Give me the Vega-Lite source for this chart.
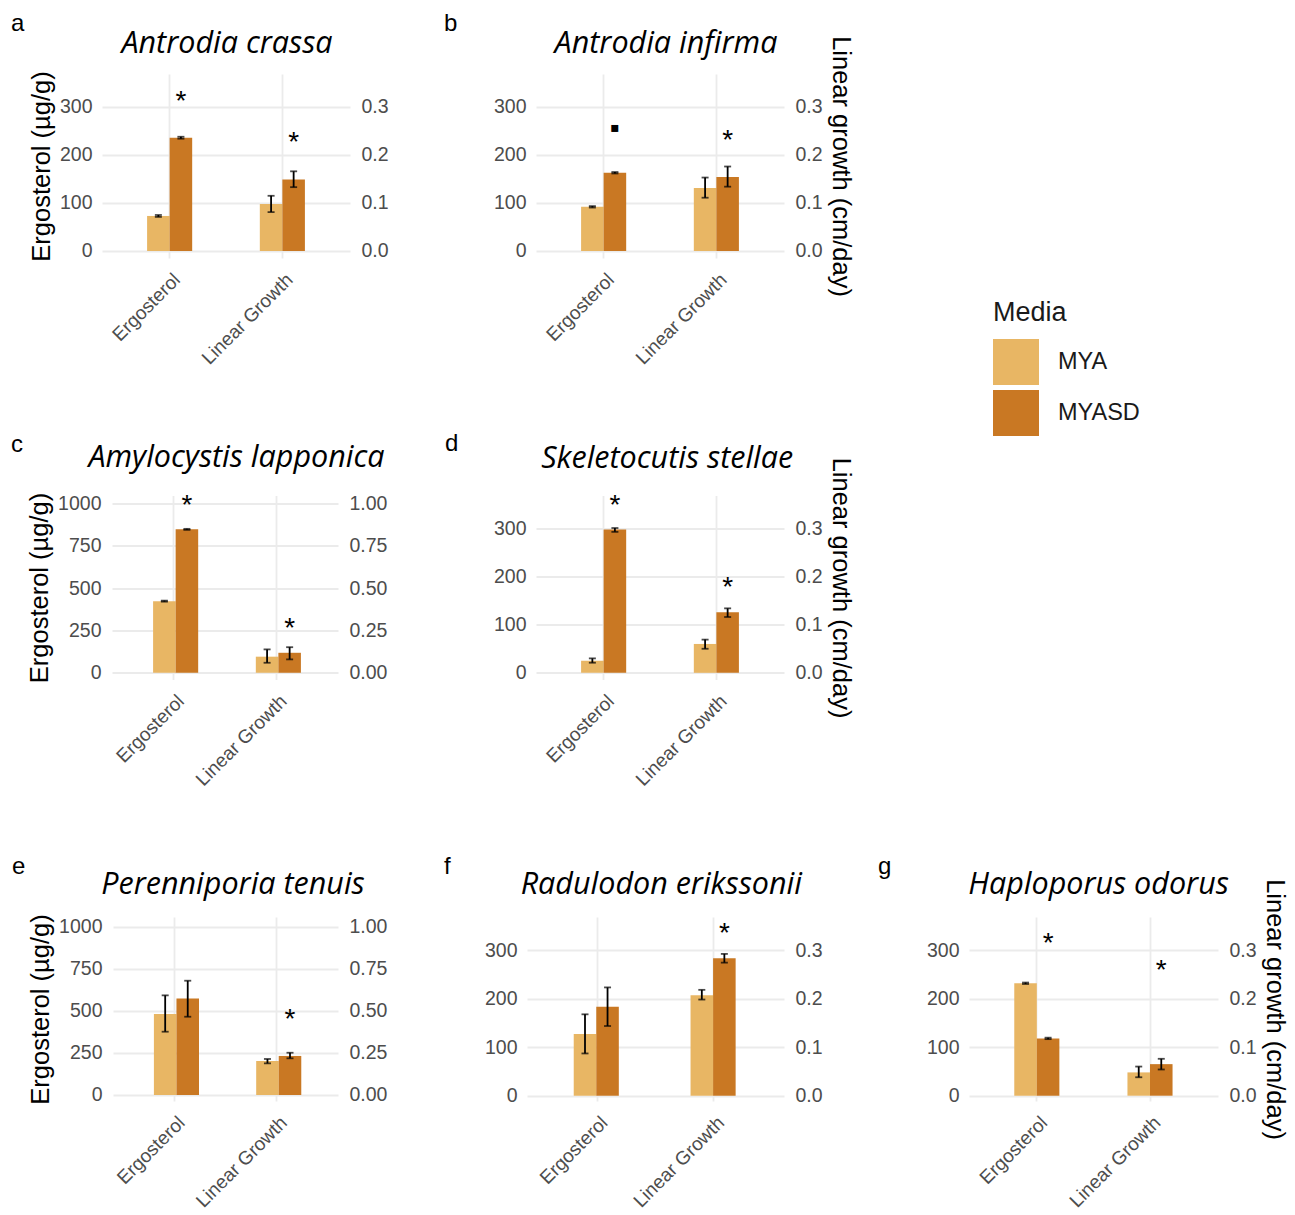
{
"$schema": "https://vega.github.io/schema/vega-lite/v6.json",
"autosize": {"type": "none"},
"padding": {"left": 102, "top": 74, "right": 1193, "bottom": 1141},
"background": "#ffffff",
"config": {
  "font": "Liberation Sans",
  "view": {"stroke": null},
  "axis": {"domain": false, "ticks": false, "labelColor": "#4D4D4D", "labelFontSize": 19.5, "titleColor": "#000000", "titleFontSize": 25.5, "titleFontWeight": "normal", "gridColor": "#EBEBEB"},
  "legend": {"symbolType": "square", "symbolSize": 2116, "symbolStrokeWidth": 0, "titleFontSize": 27, "titleFontWeight": "normal", "titleColor": "#1A1A1A", "labelFontSize": 23.5, "labelColor": "#1A1A1A", "labelOffset": 19, "rowPadding": 5, "titlePadding": 12, "padding": 0}
},
"datasets": {
  "a": [
    {"var": "Ergosterol", "media": "MYA", "value": 73, "lo": 71, "hi": 75},
    {"var": "Ergosterol", "media": "MYASD", "value": 236, "lo": 234, "hi": 238, "sig": "*", "sig_y": 320},
    {"var": "Linear Growth", "media": "MYA", "value": 0.098, "lo": 0.081, "hi": 0.115},
    {"var": "Linear Growth", "media": "MYASD", "value": 0.149, "lo": 0.133, "hi": 0.166, "sig": "*", "sig_y": 0.235}
  ],
  "b": [
    {"var": "Ergosterol", "media": "MYA", "value": 92, "lo": 90.5, "hi": 93.5},
    {"var": "Ergosterol", "media": "MYASD", "value": 163, "lo": 161.5, "hi": 164.5, "sig": "▪", "sig_y": 264},
    {"var": "Linear Growth", "media": "MYA", "value": 0.131, "lo": 0.111, "hi": 0.153},
    {"var": "Linear Growth", "media": "MYASD", "value": 0.154, "lo": 0.134, "hi": 0.176, "sig": "*", "sig_y": 0.238}
  ],
  "c": [
    {"var": "Ergosterol", "media": "MYA", "value": 423, "lo": 420, "hi": 426},
    {"var": "Ergosterol", "media": "MYASD", "value": 847, "lo": 844, "hi": 850, "sig": "*", "sig_y": 1013},
    {"var": "Linear Growth", "media": "MYA", "value": 0.095, "lo": 0.059, "hi": 0.138},
    {"var": "Linear Growth", "media": "MYASD", "value": 0.118, "lo": 0.079, "hi": 0.151, "sig": "*", "sig_y": 0.285}
  ],
  "d": [
    {"var": "Ergosterol", "media": "MYA", "value": 25, "lo": 21, "hi": 30},
    {"var": "Ergosterol", "media": "MYASD", "value": 298, "lo": 293, "hi": 301, "sig": "*", "sig_y": 357},
    {"var": "Linear Growth", "media": "MYA", "value": 0.060, "lo": 0.050, "hi": 0.069},
    {"var": "Linear Growth", "media": "MYASD", "value": 0.126, "lo": 0.116, "hi": 0.134, "sig": "*", "sig_y": 0.185}
  ],
  "e": [
    {"var": "Ergosterol", "media": "MYA", "value": 481, "lo": 376, "hi": 592},
    {"var": "Ergosterol", "media": "MYASD", "value": 574, "lo": 465, "hi": 679},
    {"var": "Linear Growth", "media": "MYA", "value": 0.202, "lo": 0.188, "hi": 0.214},
    {"var": "Linear Growth", "media": "MYASD", "value": 0.232, "lo": 0.218, "hi": 0.251, "sig": "*", "sig_y": 0.475}
  ],
  "f": [
    {"var": "Ergosterol", "media": "MYA", "value": 127, "lo": 87, "hi": 167.6},
    {"var": "Ergosterol", "media": "MYASD", "value": 183, "lo": 143.5, "hi": 223},
    {"var": "Linear Growth", "media": "MYA", "value": 0.207, "lo": 0.198, "hi": 0.218},
    {"var": "Linear Growth", "media": "MYASD", "value": 0.283, "lo": 0.274, "hi": 0.292, "sig": "*", "sig_y": 0.343}
  ],
  "g": [
    {"var": "Ergosterol", "media": "MYA", "value": 231.5, "lo": 230, "hi": 233},
    {"var": "Ergosterol", "media": "MYASD", "value": 118, "lo": 116.5, "hi": 119.5, "sig": "*", "sig_y": 322},
    {"var": "Linear Growth", "media": "MYA", "value": 0.048, "lo": 0.038, "hi": 0.060},
    {"var": "Linear Growth", "media": "MYASD", "value": 0.065, "lo": 0.054, "hi": 0.076, "sig": "*", "sig_y": 0.266}
  ]
},
"columns": 5,
"spacing": {"row": 237.5, "column": 0},
"align": "each",
"bounds": "flush",
"concat": [
  {
    "width": 248, "height": 184, "data": {"name": "a"},
    "title": {"text": "a", "anchor": "start", "frame": "group", "dx": -91, "offset": -26.7, "baseline": "alphabetic", "fontSize": 24, "fontWeight": "normal", "color": "#000000"},
    "resolve": {"scale": {"y": "independent"}, "axis": {"x": "independent"}},
    "layer": [
      {
        "transform": [{"filter": "datum.var === 'Ergosterol'"}],
        "encoding": {
          "x": {"field": "var", "type": "nominal", "scale": {"domain": ["Ergosterol", "Linear Growth"], "paddingInner": 0.6, "paddingOuter": 0.4}, "axis": {"orient": "bottom", "title": null, "labelAngle": -45, "labelAlign": "right", "labelBaseline": "top", "labelPadding": 12, "labelOffset": 1, "labelFontSize": 19, "grid": true, "gridWidth": 1.8, "bandPosition": 0.5}},
          "xOffset": {"field": "media", "type": "nominal", "scale": {"domain": ["MYA", "MYASD"], "paddingInner": 0, "paddingOuter": 0}}
        },
        "layer": [
          {"mark": {"type": "bar"}, "encoding": {"y": {"field": "value", "type": "quantitative", "stack": null, "scale": {"domain": [-14.6, 368.75], "nice": false, "zero": false}, "axis": {"orient": "left", "title": "Ergosterol (µg/g)", "values": [0, 50, 100, 150, 200, 250, 300, 350], "labelExpr": "datum.value % 100 === 0 ? datum.label : ''", "grid": true, "gridWidth": {"condition": {"test": "datum.value % 100 === 0", "value": 1.8}, "value": 1}, "labelPadding": 10, "titlePadding": 5}}, "color": {"field": "media", "type": "nominal", "scale": {"domain": ["MYA", "MYASD"], "range": ["#E8B664", "#C97823"]}, "legend": {"title": "Media", "orient": "none", "legendX": 891, "legendY": 226, "symbolType": "square"}}}},
          {"mark": {"type": "rule", "color": "#000000", "strokeWidth": 1.8}, "encoding": {"y": {"field": "lo", "type": "quantitative"}, "y2": {"field": "hi"}}},
          {"mark": {"type": "tick", "color": "#000000", "thickness": 1.8, "size": 7}, "encoding": {"y": {"field": "lo", "type": "quantitative"}}},
          {"mark": {"type": "tick", "color": "#000000", "thickness": 1.8, "size": 7}, "encoding": {"y": {"field": "hi", "type": "quantitative"}}},
          {"transform": [{"filter": "isValid(datum.sig)"}], "mark": {"type": "text", "fontSize": 28, "baseline": "alphabetic", "dy": 12.5, "color": "#000000"}, "encoding": {"y": {"field": "sig_y", "type": "quantitative"}, "text": {"field": "sig", "type": "nominal"}}}
        ]
      },
      {
        "transform": [{"filter": "datum.var === 'Linear Growth'"}],
        "encoding": {
          "x": {"field": "var", "type": "nominal", "scale": {"domain": ["Ergosterol", "Linear Growth"], "paddingInner": 0.6, "paddingOuter": 0.4}, "axis": {"orient": "top", "labels": false, "grid": false, "title": "Antrodia crassa", "titleFont": "Open Sans", "titleFontStyle": "italic", "titleFontSize": 30.5, "titleColor": "#000000", "titleX": 124.5, "titleY": -21.3, "titleAlign": "center", "titleBaseline": "alphabetic", "titleAngle": 0}},
          "xOffset": {"field": "media", "type": "nominal", "scale": {"domain": ["MYA", "MYASD"], "paddingInner": 0, "paddingOuter": 0}}
        },
        "layer": [
          {"mark": {"type": "bar"}, "encoding": {"y": {"field": "value", "type": "quantitative", "stack": null, "scale": {"domain": [-0.0146, 0.36875], "nice": false, "zero": false}, "axis": {"orient": "right", "title": null, "values": [0, 0.1, 0.2, 0.3], "format": ".1f", "grid": false, "labelPadding": 11, "titlePadding": 5}}, "color": {"field": "media", "type": "nominal", "scale": {"domain": ["MYA", "MYASD"], "range": ["#E8B664", "#C97823"]}, "legend": {"title": "Media", "orient": "none", "legendX": 891, "legendY": 226, "symbolType": "square"}}}},
          {"mark": {"type": "rule", "color": "#000000", "strokeWidth": 1.8}, "encoding": {"y": {"field": "lo", "type": "quantitative"}, "y2": {"field": "hi"}}},
          {"mark": {"type": "tick", "color": "#000000", "thickness": 1.8, "size": 7}, "encoding": {"y": {"field": "lo", "type": "quantitative"}}},
          {"mark": {"type": "tick", "color": "#000000", "thickness": 1.8, "size": 7}, "encoding": {"y": {"field": "hi", "type": "quantitative"}}},
          {"transform": [{"filter": "isValid(datum.sig)"}], "mark": {"type": "text", "fontSize": 28, "baseline": "alphabetic", "dy": 12.5, "color": "#000000"}, "encoding": {"y": {"field": "sig_y", "type": "quantitative"}, "text": {"field": "sig", "type": "nominal"}}}
        ]
      }
    ]
  },
  {"width": 177, "height": 184, "data": {"values": []}, "mark": "point"},
  {
    "width": 257, "height": 184, "data": {"name": "b"},
    "title": {"text": "b", "anchor": "start", "frame": "group", "dx": -83, "offset": -26.7, "baseline": "alphabetic", "fontSize": 24, "fontWeight": "normal", "color": "#000000"},
    "resolve": {"scale": {"y": "independent"}, "axis": {"x": "independent"}},
    "layer": [
      {
        "transform": [{"filter": "datum.var === 'Ergosterol'"}],
        "encoding": {
          "x": {"field": "var", "type": "nominal", "scale": {"domain": ["Ergosterol", "Linear Growth"], "range": [9, 257], "paddingInner": 0.6, "paddingOuter": 0.4}, "axis": {"orient": "bottom", "title": null, "labelAngle": -45, "labelAlign": "right", "labelBaseline": "top", "labelPadding": 12, "labelOffset": 1, "labelFontSize": 19, "grid": true, "gridWidth": 1.8, "bandPosition": 0.5}},
          "xOffset": {"field": "media", "type": "nominal", "scale": {"domain": ["MYA", "MYASD"], "paddingInner": 0, "paddingOuter": 0}}
        },
        "layer": [
          {"mark": {"type": "bar"}, "encoding": {"y": {"field": "value", "type": "quantitative", "stack": null, "scale": {"domain": [-14.6, 368.75], "nice": false, "zero": false}, "axis": {"orient": "left", "title": null, "values": [0, 50, 100, 150, 200, 250, 300, 350], "labelExpr": "datum.value % 100 === 0 ? datum.label : ''", "grid": true, "gridWidth": {"condition": {"test": "datum.value % 100 === 0", "value": 1.8}, "value": 1}, "labelPadding": 1, "titlePadding": 5}}, "color": {"field": "media", "type": "nominal", "scale": {"domain": ["MYA", "MYASD"], "range": ["#E8B664", "#C97823"]}, "legend": {"title": "Media", "orient": "none", "legendX": 891, "legendY": 226, "symbolType": "square"}}}},
          {"mark": {"type": "rule", "color": "#000000", "strokeWidth": 1.8}, "encoding": {"y": {"field": "lo", "type": "quantitative"}, "y2": {"field": "hi"}}},
          {"mark": {"type": "tick", "color": "#000000", "thickness": 1.8, "size": 7}, "encoding": {"y": {"field": "lo", "type": "quantitative"}}},
          {"mark": {"type": "tick", "color": "#000000", "thickness": 1.8, "size": 7}, "encoding": {"y": {"field": "hi", "type": "quantitative"}}},
          {"transform": [{"filter": "isValid(datum.sig)"}], "mark": {"type": "text", "fontSize": 28, "baseline": "alphabetic", "dy": 12.5, "color": "#000000"}, "encoding": {"y": {"field": "sig_y", "type": "quantitative"}, "text": {"field": "sig", "type": "nominal"}}}
        ]
      },
      {
        "transform": [{"filter": "datum.var === 'Linear Growth'"}],
        "encoding": {
          "x": {"field": "var", "type": "nominal", "scale": {"domain": ["Ergosterol", "Linear Growth"], "range": [9, 257], "paddingInner": 0.6, "paddingOuter": 0.4}, "axis": {"orient": "top", "labels": false, "grid": false, "title": "Antrodia infirma", "titleFont": "Open Sans", "titleFontStyle": "italic", "titleFontSize": 30.5, "titleColor": "#000000", "titleX": 138.5, "titleY": -21.3, "titleAlign": "center", "titleBaseline": "alphabetic", "titleAngle": 0}},
          "xOffset": {"field": "media", "type": "nominal", "scale": {"domain": ["MYA", "MYASD"], "paddingInner": 0, "paddingOuter": 0}}
        },
        "layer": [
          {"mark": {"type": "bar"}, "encoding": {"y": {"field": "value", "type": "quantitative", "stack": null, "scale": {"domain": [-0.0146, 0.36875], "nice": false, "zero": false}, "axis": {"orient": "right", "title": "Linear growth (cm/day)", "values": [0, 0.1, 0.2, 0.3], "format": ".1f", "grid": false, "labelPadding": 11, "titlePadding": 5}}, "color": {"field": "media", "type": "nominal", "scale": {"domain": ["MYA", "MYASD"], "range": ["#E8B664", "#C97823"]}, "legend": {"title": "Media", "orient": "none", "legendX": 891, "legendY": 226, "symbolType": "square"}}}},
          {"mark": {"type": "rule", "color": "#000000", "strokeWidth": 1.8}, "encoding": {"y": {"field": "lo", "type": "quantitative"}, "y2": {"field": "hi"}}},
          {"mark": {"type": "tick", "color": "#000000", "thickness": 1.8, "size": 7}, "encoding": {"y": {"field": "lo", "type": "quantitative"}}},
          {"mark": {"type": "tick", "color": "#000000", "thickness": 1.8, "size": 7}, "encoding": {"y": {"field": "hi", "type": "quantitative"}}},
          {"transform": [{"filter": "isValid(datum.sig)"}], "mark": {"type": "text", "fontSize": 28, "baseline": "alphabetic", "dy": 12.5, "color": "#000000"}, "encoding": {"y": {"field": "sig_y", "type": "quantitative"}, "text": {"field": "sig", "type": "nominal"}}}
        ]
      }
    ]
  },
  {"width": 185, "height": 184, "data": {"values": []}, "mark": "point"},
  {"width": 1, "height": 184, "data": {"values": []}, "mark": "point"},

  {
    "width": 236, "height": 184, "data": {"name": "c"},
    "title": {"text": "c", "anchor": "start", "frame": "group", "dx": -91, "offset": -33.7, "baseline": "alphabetic", "fontSize": 24, "fontWeight": "normal", "color": "#000000"},
    "resolve": {"scale": {"y": "independent"}, "axis": {"x": "independent"}},
    "layer": [
      {
        "transform": [{"filter": "datum.var === 'Ergosterol'"}],
        "encoding": {
          "x": {"field": "var", "type": "nominal", "scale": {"domain": ["Ergosterol", "Linear Growth"], "range": [10, 236], "paddingInner": 0.6, "paddingOuter": 0.4}, "axis": {"orient": "bottom", "title": null, "labelAngle": -45, "labelAlign": "right", "labelBaseline": "top", "labelPadding": 12, "labelOffset": 1, "labelFontSize": 19, "grid": true, "gridWidth": 1.8, "bandPosition": 0.5}},
          "xOffset": {"field": "media", "type": "nominal", "scale": {"domain": ["MYA", "MYASD"], "paddingInner": 0, "paddingOuter": 0}}
        },
        "layer": [
          {"mark": {"type": "bar"}, "encoding": {"y": {"field": "value", "type": "quantitative", "stack": null, "scale": {"domain": [-39.8, 1047], "nice": false, "zero": false}, "axis": {"orient": "left", "title": "Ergosterol (µg/g)", "values": [0, 125, 250, 375, 500, 625, 750, 875, 1000], "format": "d", "labelExpr": "datum.value % 250 === 0 ? datum.label : ''", "grid": true, "gridWidth": {"condition": {"test": "datum.value % 250 === 0", "value": 1.8}, "value": 1}, "labelPadding": 1, "titlePadding": 5}}, "color": {"field": "media", "type": "nominal", "scale": {"domain": ["MYA", "MYASD"], "range": ["#E8B664", "#C97823"]}, "legend": {"title": "Media", "orient": "none", "legendX": 891, "legendY": 226, "symbolType": "square"}}}},
          {"mark": {"type": "rule", "color": "#000000", "strokeWidth": 1.8}, "encoding": {"y": {"field": "lo", "type": "quantitative"}, "y2": {"field": "hi"}}},
          {"mark": {"type": "tick", "color": "#000000", "thickness": 1.8, "size": 7}, "encoding": {"y": {"field": "lo", "type": "quantitative"}}},
          {"mark": {"type": "tick", "color": "#000000", "thickness": 1.8, "size": 7}, "encoding": {"y": {"field": "hi", "type": "quantitative"}}},
          {"transform": [{"filter": "isValid(datum.sig)"}], "mark": {"type": "text", "fontSize": 28, "baseline": "alphabetic", "dy": 12.5, "color": "#000000"}, "encoding": {"y": {"field": "sig_y", "type": "quantitative"}, "text": {"field": "sig", "type": "nominal"}}}
        ]
      },
      {
        "transform": [{"filter": "datum.var === 'Linear Growth'"}],
        "encoding": {
          "x": {"field": "var", "type": "nominal", "scale": {"domain": ["Ergosterol", "Linear Growth"], "range": [10, 236], "paddingInner": 0.6, "paddingOuter": 0.4}, "axis": {"orient": "top", "labels": false, "grid": false, "title": "Amylocystis lapponica", "titleFont": "Open Sans", "titleFontStyle": "italic", "titleFontSize": 30.5, "titleColor": "#000000", "titleX": 134, "titleY": -29.3, "titleAlign": "center", "titleBaseline": "alphabetic", "titleAngle": 0}},
          "xOffset": {"field": "media", "type": "nominal", "scale": {"domain": ["MYA", "MYASD"], "paddingInner": 0, "paddingOuter": 0}}
        },
        "layer": [
          {"mark": {"type": "bar"}, "encoding": {"y": {"field": "value", "type": "quantitative", "stack": null, "scale": {"domain": [-0.0398, 1.047], "nice": false, "zero": false}, "axis": {"orient": "right", "title": null, "values": [0, 0.25, 0.5, 0.75, 1], "format": ".2f", "grid": false, "labelPadding": 11, "titlePadding": 5}}, "color": {"field": "media", "type": "nominal", "scale": {"domain": ["MYA", "MYASD"], "range": ["#E8B664", "#C97823"]}, "legend": {"title": "Media", "orient": "none", "legendX": 891, "legendY": 226, "symbolType": "square"}}}},
          {"mark": {"type": "rule", "color": "#000000", "strokeWidth": 1.8}, "encoding": {"y": {"field": "lo", "type": "quantitative"}, "y2": {"field": "hi"}}},
          {"mark": {"type": "tick", "color": "#000000", "thickness": 1.8, "size": 7}, "encoding": {"y": {"field": "lo", "type": "quantitative"}}},
          {"mark": {"type": "tick", "color": "#000000", "thickness": 1.8, "size": 7}, "encoding": {"y": {"field": "hi", "type": "quantitative"}}},
          {"transform": [{"filter": "isValid(datum.sig)"}], "mark": {"type": "text", "fontSize": 28, "baseline": "alphabetic", "dy": 12.5, "color": "#000000"}, "encoding": {"y": {"field": "sig_y", "type": "quantitative"}, "text": {"field": "sig", "type": "nominal"}}}
        ]
      }
    ]
  },
  {"width": 177, "height": 184, "data": {"values": []}, "mark": "point"},
  {
    "width": 257, "height": 184, "data": {"name": "d"},
    "title": {"text": "d", "anchor": "start", "frame": "group", "dx": -82, "offset": -32, "baseline": "alphabetic", "fontSize": 24, "fontWeight": "normal", "color": "#000000"},
    "resolve": {"scale": {"y": "independent"}, "axis": {"x": "independent"}},
    "layer": [
      {
        "transform": [{"filter": "datum.var === 'Ergosterol'"}],
        "encoding": {
          "x": {"field": "var", "type": "nominal", "scale": {"domain": ["Ergosterol", "Linear Growth"], "range": [9, 257], "paddingInner": 0.6, "paddingOuter": 0.4}, "axis": {"orient": "bottom", "title": null, "labelAngle": -45, "labelAlign": "right", "labelBaseline": "top", "labelPadding": 12, "labelOffset": 1, "labelFontSize": 19, "grid": true, "gridWidth": 1.8, "bandPosition": 0.5}},
          "xOffset": {"field": "media", "type": "nominal", "scale": {"domain": ["MYA", "MYASD"], "paddingInner": 0, "paddingOuter": 0}}
        },
        "layer": [
          {"mark": {"type": "bar"}, "encoding": {"y": {"field": "value", "type": "quantitative", "stack": null, "scale": {"domain": [-13.9, 368.6], "nice": false, "zero": false}, "axis": {"orient": "left", "title": null, "values": [0, 50, 100, 150, 200, 250, 300, 350], "labelExpr": "datum.value % 100 === 0 ? datum.label : ''", "grid": true, "gridWidth": {"condition": {"test": "datum.value % 100 === 0", "value": 1.8}, "value": 1}, "labelPadding": 1, "titlePadding": 5}}, "color": {"field": "media", "type": "nominal", "scale": {"domain": ["MYA", "MYASD"], "range": ["#E8B664", "#C97823"]}, "legend": {"title": "Media", "orient": "none", "legendX": 891, "legendY": 226, "symbolType": "square"}}}},
          {"mark": {"type": "rule", "color": "#000000", "strokeWidth": 1.8}, "encoding": {"y": {"field": "lo", "type": "quantitative"}, "y2": {"field": "hi"}}},
          {"mark": {"type": "tick", "color": "#000000", "thickness": 1.8, "size": 7}, "encoding": {"y": {"field": "lo", "type": "quantitative"}}},
          {"mark": {"type": "tick", "color": "#000000", "thickness": 1.8, "size": 7}, "encoding": {"y": {"field": "hi", "type": "quantitative"}}},
          {"transform": [{"filter": "isValid(datum.sig)"}], "mark": {"type": "text", "fontSize": 28, "baseline": "alphabetic", "dy": 12.5, "color": "#000000"}, "encoding": {"y": {"field": "sig_y", "type": "quantitative"}, "text": {"field": "sig", "type": "nominal"}}}
        ]
      },
      {
        "transform": [{"filter": "datum.var === 'Linear Growth'"}],
        "encoding": {
          "x": {"field": "var", "type": "nominal", "scale": {"domain": ["Ergosterol", "Linear Growth"], "range": [9, 257], "paddingInner": 0.6, "paddingOuter": 0.4}, "axis": {"orient": "top", "labels": false, "grid": false, "title": "Skeletocutis stellae", "titleFont": "Open Sans", "titleFontStyle": "italic", "titleFontSize": 30.5, "titleColor": "#000000", "titleX": 139.7, "titleY": -28.3, "titleAlign": "center", "titleBaseline": "alphabetic", "titleAngle": 0}},
          "xOffset": {"field": "media", "type": "nominal", "scale": {"domain": ["MYA", "MYASD"], "paddingInner": 0, "paddingOuter": 0}}
        },
        "layer": [
          {"mark": {"type": "bar"}, "encoding": {"y": {"field": "value", "type": "quantitative", "stack": null, "scale": {"domain": [-0.0139, 0.3686], "nice": false, "zero": false}, "axis": {"orient": "right", "title": "Linear growth (cm/day)", "values": [0, 0.1, 0.2, 0.3], "format": ".1f", "grid": false, "labelPadding": 11, "titlePadding": 5}}, "color": {"field": "media", "type": "nominal", "scale": {"domain": ["MYA", "MYASD"], "range": ["#E8B664", "#C97823"]}, "legend": {"title": "Media", "orient": "none", "legendX": 891, "legendY": 226, "symbolType": "square"}}}},
          {"mark": {"type": "rule", "color": "#000000", "strokeWidth": 1.8}, "encoding": {"y": {"field": "lo", "type": "quantitative"}, "y2": {"field": "hi"}}},
          {"mark": {"type": "tick", "color": "#000000", "thickness": 1.8, "size": 7}, "encoding": {"y": {"field": "lo", "type": "quantitative"}}},
          {"mark": {"type": "tick", "color": "#000000", "thickness": 1.8, "size": 7}, "encoding": {"y": {"field": "hi", "type": "quantitative"}}},
          {"transform": [{"filter": "isValid(datum.sig)"}], "mark": {"type": "text", "fontSize": 28, "baseline": "alphabetic", "dy": 12.5, "color": "#000000"}, "encoding": {"y": {"field": "sig_y", "type": "quantitative"}, "text": {"field": "sig", "type": "nominal"}}}
        ]
      }
    ]
  },
  {"width": 185, "height": 184, "data": {"values": []}, "mark": "point"},
  {"width": 1, "height": 184, "data": {"values": []}, "mark": "point"},

  {
    "width": 236, "height": 184, "data": {"name": "e"},
    "title": {"text": "e", "anchor": "start", "frame": "group", "dx": -90, "offset": -29.1, "baseline": "alphabetic", "fontSize": 24, "fontWeight": "normal", "color": "#000000"},
    "resolve": {"scale": {"y": "independent"}, "axis": {"x": "independent"}},
    "layer": [
      {
        "transform": [{"filter": "datum.var === 'Ergosterol'"}],
        "encoding": {
          "x": {"field": "var", "type": "nominal", "scale": {"domain": ["Ergosterol", "Linear Growth"], "range": [11, 236], "paddingInner": 0.6, "paddingOuter": 0.4}, "axis": {"orient": "bottom", "title": null, "labelAngle": -45, "labelAlign": "right", "labelBaseline": "top", "labelPadding": 12, "labelOffset": 1, "labelFontSize": 19, "grid": true, "gridWidth": 1.8, "bandPosition": 0.5}},
          "xOffset": {"field": "media", "type": "nominal", "scale": {"domain": ["MYA", "MYASD"], "paddingInner": 0, "paddingOuter": 0}}
        },
        "layer": [
          {"mark": {"type": "bar"}, "encoding": {"y": {"field": "value", "type": "quantitative", "stack": null, "scale": {"domain": [-35.7, 1057.6], "nice": false, "zero": false}, "axis": {"orient": "left", "title": "Ergosterol (µg/g)", "values": [0, 125, 250, 375, 500, 625, 750, 875, 1000], "format": "d", "labelExpr": "datum.value % 250 === 0 ? datum.label : ''", "grid": true, "gridWidth": {"condition": {"test": "datum.value % 250 === 0", "value": 1.8}, "value": 1}, "labelPadding": 0, "titlePadding": 5}}, "color": {"field": "media", "type": "nominal", "scale": {"domain": ["MYA", "MYASD"], "range": ["#E8B664", "#C97823"]}, "legend": {"title": "Media", "orient": "none", "legendX": 891, "legendY": 226, "symbolType": "square"}}}},
          {"mark": {"type": "rule", "color": "#000000", "strokeWidth": 1.8}, "encoding": {"y": {"field": "lo", "type": "quantitative"}, "y2": {"field": "hi"}}},
          {"mark": {"type": "tick", "color": "#000000", "thickness": 1.8, "size": 7}, "encoding": {"y": {"field": "lo", "type": "quantitative"}}},
          {"mark": {"type": "tick", "color": "#000000", "thickness": 1.8, "size": 7}, "encoding": {"y": {"field": "hi", "type": "quantitative"}}},
          {"transform": [{"filter": "isValid(datum.sig)"}], "mark": {"type": "text", "fontSize": 28, "baseline": "alphabetic", "dy": 12.5, "color": "#000000"}, "encoding": {"y": {"field": "sig_y", "type": "quantitative"}, "text": {"field": "sig", "type": "nominal"}}}
        ]
      },
      {
        "transform": [{"filter": "datum.var === 'Linear Growth'"}],
        "encoding": {
          "x": {"field": "var", "type": "nominal", "scale": {"domain": ["Ergosterol", "Linear Growth"], "range": [11, 236], "paddingInner": 0.6, "paddingOuter": 0.4}, "axis": {"orient": "top", "labels": false, "grid": false, "title": "Perenniporia tenuis", "titleFont": "Open Sans", "titleFontStyle": "italic", "titleFontSize": 30.5, "titleColor": "#000000", "titleX": 130.5, "titleY": -23.7, "titleAlign": "center", "titleBaseline": "alphabetic", "titleAngle": 0}},
          "xOffset": {"field": "media", "type": "nominal", "scale": {"domain": ["MYA", "MYASD"], "paddingInner": 0, "paddingOuter": 0}}
        },
        "layer": [
          {"mark": {"type": "bar"}, "encoding": {"y": {"field": "value", "type": "quantitative", "stack": null, "scale": {"domain": [-0.0357, 1.0576], "nice": false, "zero": false}, "axis": {"orient": "right", "title": null, "values": [0, 0.25, 0.5, 0.75, 1], "format": ".2f", "grid": false, "labelPadding": 11, "titlePadding": 5}}, "color": {"field": "media", "type": "nominal", "scale": {"domain": ["MYA", "MYASD"], "range": ["#E8B664", "#C97823"]}, "legend": {"title": "Media", "orient": "none", "legendX": 891, "legendY": 226, "symbolType": "square"}}}},
          {"mark": {"type": "rule", "color": "#000000", "strokeWidth": 1.8}, "encoding": {"y": {"field": "lo", "type": "quantitative"}, "y2": {"field": "hi"}}},
          {"mark": {"type": "tick", "color": "#000000", "thickness": 1.8, "size": 7}, "encoding": {"y": {"field": "lo", "type": "quantitative"}}},
          {"mark": {"type": "tick", "color": "#000000", "thickness": 1.8, "size": 7}, "encoding": {"y": {"field": "hi", "type": "quantitative"}}},
          {"transform": [{"filter": "isValid(datum.sig)"}], "mark": {"type": "text", "fontSize": 28, "baseline": "alphabetic", "dy": 12.5, "color": "#000000"}, "encoding": {"y": {"field": "sig_y", "type": "quantitative"}, "text": {"field": "sig", "type": "nominal"}}}
        ]
      }
    ]
  },
  {"width": 177, "height": 184, "data": {"values": []}, "mark": "point"},
  {
    "width": 257, "height": 184, "data": {"name": "f"},
    "title": {"text": "f", "anchor": "start", "frame": "group", "dx": -83, "offset": -29.1, "baseline": "alphabetic", "fontSize": 24, "fontWeight": "normal", "color": "#000000"},
    "resolve": {"scale": {"y": "independent"}, "axis": {"x": "independent"}},
    "layer": [
      {
        "transform": [{"filter": "datum.var === 'Ergosterol'"}],
        "encoding": {
          "x": {"field": "var", "type": "nominal", "scale": {"domain": ["Ergosterol", "Linear Growth"], "paddingInner": 0.6, "paddingOuter": 0.4}, "axis": {"orient": "bottom", "title": null, "labelAngle": -45, "labelAlign": "right", "labelBaseline": "top", "labelPadding": 12, "labelOffset": 1, "labelFontSize": 19, "grid": true, "gridWidth": 1.8, "bandPosition": 0.5}},
          "xOffset": {"field": "media", "type": "nominal", "scale": {"domain": ["MYA", "MYASD"], "paddingInner": 0, "paddingOuter": 0}}
        },
        "layer": [
          {"mark": {"type": "bar"}, "encoding": {"y": {"field": "value", "type": "quantitative", "stack": null, "scale": {"domain": [-10.9, 368], "nice": false, "zero": false}, "axis": {"orient": "left", "title": null, "values": [0, 50, 100, 150, 200, 250, 300, 350], "labelExpr": "datum.value % 100 === 0 ? datum.label : ''", "grid": true, "gridWidth": {"condition": {"test": "datum.value % 100 === 0", "value": 1.8}, "value": 1}, "labelPadding": 10, "titlePadding": 5}}, "color": {"field": "media", "type": "nominal", "scale": {"domain": ["MYA", "MYASD"], "range": ["#E8B664", "#C97823"]}, "legend": {"title": "Media", "orient": "none", "legendX": 891, "legendY": 226, "symbolType": "square"}}}},
          {"mark": {"type": "rule", "color": "#000000", "strokeWidth": 1.8}, "encoding": {"y": {"field": "lo", "type": "quantitative"}, "y2": {"field": "hi"}}},
          {"mark": {"type": "tick", "color": "#000000", "thickness": 1.8, "size": 7}, "encoding": {"y": {"field": "lo", "type": "quantitative"}}},
          {"mark": {"type": "tick", "color": "#000000", "thickness": 1.8, "size": 7}, "encoding": {"y": {"field": "hi", "type": "quantitative"}}},
          {"transform": [{"filter": "isValid(datum.sig)"}], "mark": {"type": "text", "fontSize": 28, "baseline": "alphabetic", "dy": 12.5, "color": "#000000"}, "encoding": {"y": {"field": "sig_y", "type": "quantitative"}, "text": {"field": "sig", "type": "nominal"}}}
        ]
      },
      {
        "transform": [{"filter": "datum.var === 'Linear Growth'"}],
        "encoding": {
          "x": {"field": "var", "type": "nominal", "scale": {"domain": ["Ergosterol", "Linear Growth"], "paddingInner": 0.6, "paddingOuter": 0.4}, "axis": {"orient": "top", "labels": false, "grid": false, "title": "Radulodon erikssonii", "titleFont": "Open Sans", "titleFontStyle": "italic", "titleFontSize": 30.5, "titleColor": "#000000", "titleX": 133.8, "titleY": -23.7, "titleAlign": "center", "titleBaseline": "alphabetic", "titleAngle": 0}},
          "xOffset": {"field": "media", "type": "nominal", "scale": {"domain": ["MYA", "MYASD"], "paddingInner": 0, "paddingOuter": 0}}
        },
        "layer": [
          {"mark": {"type": "bar"}, "encoding": {"y": {"field": "value", "type": "quantitative", "stack": null, "scale": {"domain": [-0.0109, 0.368], "nice": false, "zero": false}, "axis": {"orient": "right", "title": null, "values": [0, 0.1, 0.2, 0.3], "format": ".1f", "grid": false, "labelPadding": 11, "titlePadding": 5}}, "color": {"field": "media", "type": "nominal", "scale": {"domain": ["MYA", "MYASD"], "range": ["#E8B664", "#C97823"]}, "legend": {"title": "Media", "orient": "none", "legendX": 891, "legendY": 226, "symbolType": "square"}}}},
          {"mark": {"type": "rule", "color": "#000000", "strokeWidth": 1.8}, "encoding": {"y": {"field": "lo", "type": "quantitative"}, "y2": {"field": "hi"}}},
          {"mark": {"type": "tick", "color": "#000000", "thickness": 1.8, "size": 7}, "encoding": {"y": {"field": "lo", "type": "quantitative"}}},
          {"mark": {"type": "tick", "color": "#000000", "thickness": 1.8, "size": 7}, "encoding": {"y": {"field": "hi", "type": "quantitative"}}},
          {"transform": [{"filter": "isValid(datum.sig)"}], "mark": {"type": "text", "fontSize": 28, "baseline": "alphabetic", "dy": 12.5, "color": "#000000"}, "encoding": {"y": {"field": "sig_y", "type": "quantitative"}, "text": {"field": "sig", "type": "nominal"}}}
        ]
      }
    ]
  },
  {"width": 185, "height": 184, "data": {"values": []}, "mark": "point"},
  {
    "width": 249, "height": 184, "data": {"name": "g"},
    "title": {"text": "g", "anchor": "start", "frame": "group", "dx": -91, "offset": -28.4, "baseline": "alphabetic", "fontSize": 24, "fontWeight": "normal", "color": "#000000"},
    "resolve": {"scale": {"y": "independent"}, "axis": {"x": "independent"}},
    "layer": [
      {
        "transform": [{"filter": "datum.var === 'Ergosterol'"}],
        "encoding": {
          "x": {"field": "var", "type": "nominal", "scale": {"domain": ["Ergosterol", "Linear Growth"], "paddingInner": 0.6, "paddingOuter": 0.4}, "axis": {"orient": "bottom", "title": null, "labelAngle": -45, "labelAlign": "right", "labelBaseline": "top", "labelPadding": 12, "labelOffset": 1, "labelFontSize": 19, "grid": true, "gridWidth": 1.8, "bandPosition": 0.5}},
          "xOffset": {"field": "media", "type": "nominal", "scale": {"domain": ["MYA", "MYASD"], "paddingInner": 0, "paddingOuter": 0}}
        },
        "layer": [
          {"mark": {"type": "bar"}, "encoding": {"y": {"field": "value", "type": "quantitative", "stack": null, "scale": {"domain": [-10.9, 368], "nice": false, "zero": false}, "axis": {"orient": "left", "title": null, "values": [0, 50, 100, 150, 200, 250, 300, 350], "labelExpr": "datum.value % 100 === 0 ? datum.label : ''", "grid": true, "gridWidth": {"condition": {"test": "datum.value % 100 === 0", "value": 1.8}, "value": 1}, "labelPadding": 10, "titlePadding": 5}}, "color": {"field": "media", "type": "nominal", "scale": {"domain": ["MYA", "MYASD"], "range": ["#E8B664", "#C97823"]}, "legend": {"title": "Media", "orient": "none", "legendX": 891, "legendY": 226, "symbolType": "square"}}}},
          {"mark": {"type": "rule", "color": "#000000", "strokeWidth": 1.8}, "encoding": {"y": {"field": "lo", "type": "quantitative"}, "y2": {"field": "hi"}}},
          {"mark": {"type": "tick", "color": "#000000", "thickness": 1.8, "size": 7}, "encoding": {"y": {"field": "lo", "type": "quantitative"}}},
          {"mark": {"type": "tick", "color": "#000000", "thickness": 1.8, "size": 7}, "encoding": {"y": {"field": "hi", "type": "quantitative"}}},
          {"transform": [{"filter": "isValid(datum.sig)"}], "mark": {"type": "text", "fontSize": 28, "baseline": "alphabetic", "dy": 12.5, "color": "#000000"}, "encoding": {"y": {"field": "sig_y", "type": "quantitative"}, "text": {"field": "sig", "type": "nominal"}}}
        ]
      },
      {
        "transform": [{"filter": "datum.var === 'Linear Growth'"}],
        "encoding": {
          "x": {"field": "var", "type": "nominal", "scale": {"domain": ["Ergosterol", "Linear Growth"], "paddingInner": 0.6, "paddingOuter": 0.4}, "axis": {"orient": "top", "labels": false, "grid": false, "title": "Haploporus odorus", "titleFont": "Open Sans", "titleFontStyle": "italic", "titleFontSize": 30.5, "titleColor": "#000000", "titleX": 129, "titleY": -23.7, "titleAlign": "center", "titleBaseline": "alphabetic", "titleAngle": 0}},
          "xOffset": {"field": "media", "type": "nominal", "scale": {"domain": ["MYA", "MYASD"], "paddingInner": 0, "paddingOuter": 0}}
        },
        "layer": [
          {"mark": {"type": "bar"}, "encoding": {"y": {"field": "value", "type": "quantitative", "stack": null, "scale": {"domain": [-0.0109, 0.368], "nice": false, "zero": false}, "axis": {"orient": "right", "title": "Linear growth (cm/day)", "values": [0, 0.1, 0.2, 0.3], "format": ".1f", "grid": false, "labelPadding": 11, "titlePadding": 5}}, "color": {"field": "media", "type": "nominal", "scale": {"domain": ["MYA", "MYASD"], "range": ["#E8B664", "#C97823"]}, "legend": {"title": "Media", "orient": "none", "legendX": 891, "legendY": 226, "symbolType": "square"}}}},
          {"mark": {"type": "rule", "color": "#000000", "strokeWidth": 1.8}, "encoding": {"y": {"field": "lo", "type": "quantitative"}, "y2": {"field": "hi"}}},
          {"mark": {"type": "tick", "color": "#000000", "thickness": 1.8, "size": 7}, "encoding": {"y": {"field": "lo", "type": "quantitative"}}},
          {"mark": {"type": "tick", "color": "#000000", "thickness": 1.8, "size": 7}, "encoding": {"y": {"field": "hi", "type": "quantitative"}}},
          {"transform": [{"filter": "isValid(datum.sig)"}], "mark": {"type": "text", "fontSize": 28, "baseline": "alphabetic", "dy": 12.5, "color": "#000000"}, "encoding": {"y": {"field": "sig_y", "type": "quantitative"}, "text": {"field": "sig", "type": "nominal"}}}
        ]
      }
    ]
  }
]
}
